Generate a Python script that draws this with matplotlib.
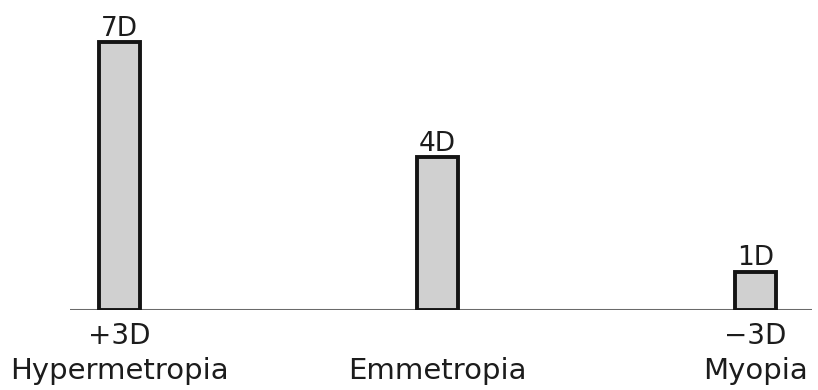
import matplotlib
matplotlib.use("Agg")
import matplotlib.pyplot as plt
from matplotlib.transforms import blended_transform_factory

# Data
categories = ["Hypermetropia", "Emmetropia", "Myopia"]
refraction_labels = ["+3D", "", "\u22123D"]
accommodation = [7, 4, 1]
value_labels = ["7D", "4D", "1D"]

plt.rcParams['font.family'] = ['DejaVu Sans']

W, H = 818, 390
fig = plt.figure(figsize=(W / 100, H / 100), dpi=100)
base_px = 310
left_px, right_px = 70, 812
ax = fig.add_axes([left_px / W, (H - base_px) / H, (right_px - left_px) / W, base_px / H])

x = list(range(len(categories)))
ax.bar(x, accommodation, width=0.13, color="#d0d0d0", edgecolor="#141414",
       linewidth=2.8, zorder=3)
ax.axhline(0, color="#6a6a6a", linewidth=2.2, zorder=2)

ax.set_xlim(-0.156, 2.178)
ax.set_ylim(0, base_px / 38.3)
ax.axis("off")

for xi, v, lab in zip(x, accommodation, value_labels):
    ax.annotate(lab, xy=(xi, v), xytext=(0, 4.5), textcoords="offset points",
                ha="center", va="baseline", fontsize=19, color="#1c1c1c")

trans = blended_transform_factory(ax.transData, fig.transFigure)
for xi, r, c in zip(x, refraction_labels, categories):
    if r:
        ax.text(xi, (H - 344) / H, r, transform=trans, ha="center", va="baseline",
                fontsize=20, color="#1c1c1c", clip_on=False)
    ax.text(xi, (H - 379) / H, c, transform=trans, ha="center", va="baseline",
            fontsize=21, color="#1c1c1c", clip_on=False)

fig.savefig("out.png", dpi=100)
